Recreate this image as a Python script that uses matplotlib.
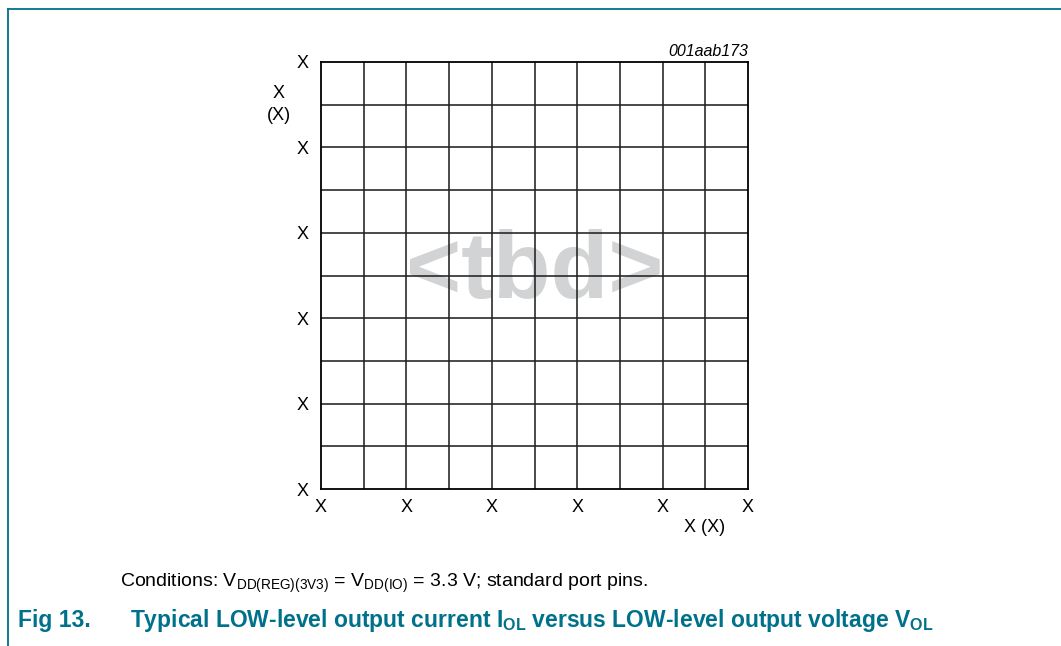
import matplotlib
matplotlib.use("Agg")
import matplotlib.pyplot as plt
from matplotlib.lines import Line2D

plt.rcParams['font.family'] = ['Liberation Sans', 'DejaVu Sans']
plt.rcParams['mathtext.fontset'] = 'custom'
plt.rcParams['mathtext.rm'] = 'Liberation Sans'
plt.rcParams['mathtext.it'] = 'Liberation Sans:italic'
plt.rcParams['mathtext.bf'] = 'Liberation Sans:bold'

# placeholder chart: empty grid, ticks every 2 grid cells
x_grid = list(range(0, 11))
y_grid = list(range(0, 11))
x_ticks = [0, 2, 4, 6, 8, 10]
y_ticks = [0, 2, 4, 6, 8, 10]
x_tick_labels = ["X"] * len(x_ticks)
y_tick_labels = ["X"] * len(y_ticks)

teal = "#00718B"

fig = plt.figure(figsize=(10.61, 6.46), dpi=100)

# frame lines (document page border)
fig.add_artist(Line2D([8 / 1061, 8 / 1061], [0, 1 - 9 / 646], color=teal, lw=1.3))
fig.add_artist(Line2D([8 / 1061, 1], [1 - 9 / 646, 1 - 9 / 646], color=teal, lw=1.3))

ax = fig.add_axes([321 / 1061, 1 - 489 / 646, 427 / 1061, 427 / 646])
ax.set_xlim(x_grid[0], x_grid[-1])
ax.set_ylim(y_grid[0], y_grid[-1])
for v in x_grid[1:-1]:
    ax.axvline(v, color="#222222", lw=1.15)
for v in y_grid[1:-1]:
    ax.axhline(v, color="#222222", lw=1.15)
for s in ax.spines.values():
    s.set_linewidth(1.3)
    s.set_color("black")

ax.set_xticks(x_ticks)
ax.set_xticklabels(x_tick_labels)
ax.set_yticks(y_ticks)
ax.set_yticklabels(y_tick_labels)
ax.tick_params(length=0, labelsize=13)
ax.tick_params(axis="x", pad=7)
ax.tick_params(axis="y", pad=9)

ax.text(0.5, 0.505, "<tbd>", transform=ax.transAxes, ha="center", va="center",
        fontsize=68, fontweight="bold", color="#D1D3D4", zorder=0)

fig.text(748 / 1061, 1 - 51 / 646, "001aab173", ha="right", va="center",
         fontsize=11.5, style="italic")
fig.text(279 / 1061, 1 - 93 / 646, "X", ha="center", va="center", fontsize=13)
fig.text(279 / 1061, 1 - 116 / 646, "(X)", ha="center", va="center", fontsize=13)
fig.text(705 / 1061, 1 - 528 / 646, "X (X)", ha="center", va="center", fontsize=13)

fig.text(120 / 1061, 1 - 583 / 646,
         r"Conditions: V$_{\mathrm{DD(REG)(3V3)}}$ = V$_{\mathrm{DD(IO)}}$ = 3.3 V; standard port pins.",
         ha="left", va="center", fontsize=14)
fig.text(18 / 1061, 1 - 620 / 646, "Fig 13.", ha="left", va="center",
         fontsize=16.5, fontweight="bold", color=teal)
fig.text(130 / 1061, 1 - 620 / 646,
         r"Typical LOW-level output current I$_{\mathbf{OL}}$ versus LOW-level output voltage V$_{\mathbf{OL}}$",
         ha="left", va="center", fontsize=16.5, fontweight="bold", color=teal)

fig.savefig("out.png", dpi=100)
